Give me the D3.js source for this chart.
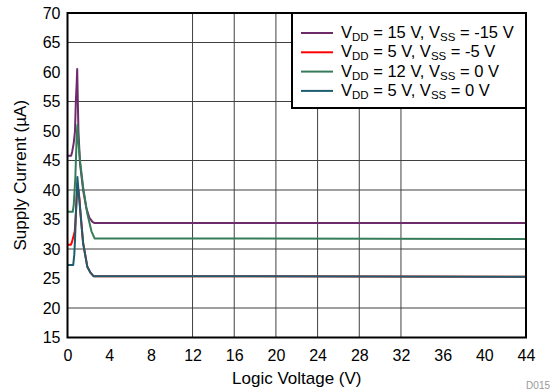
<!DOCTYPE html>
<html>
<head>
<meta charset="utf-8">
<script src="https://cdn.jsdelivr.net/npm/d3@7"></script>
<style>
  html, body { margin: 0; padding: 0; background: #fff; }
  svg { display: block; font-family: "Liberation Sans", Arial, sans-serif; }
</style>
</head>
<body>
<svg id="chart" width="555" height="392"></svg>
<script>
// Supply current vs. logic voltage, four supply configurations
const xTicks = [0, 4, 8, 12, 16, 20, 24, 28, 32, 36, 40, 44];
const yTicks = [15, 20, 25, 30, 35, 40, 45, 50, 55, 60, 65, 70];
const gridX = [12, 16, 20, 24, 28, 32];
const gridY = [20, 30, 40, 45, 55, 65];

const seriesColors = ["#6e2b69", "#ff0000", "#367c5a", "#1c5d70"];

// Logic voltage (V) and supply current (µA) per configuration
const vPurple = [0, 0.35, 0.45, 0.6, 0.72, 0.8, 0.88, 0.93, 0.98, 1.05, 1.2, 1.5, 1.8, 2.1, 2.4, 2.6, 44];
const iPurple = [45.8, 45.8, 46.5, 48, 50, 55, 58, 60.5, 56, 50, 44.5, 40, 37, 35.3, 34.6, 34.4, 34.4];

const vRed = [0, 0.3, 0.4, 0.55, 0.7, 0.8, 0.95, 1.05, 1.15, 1.25, 1.5, 1.9, 2.2, 2.5, 44];
const iRed = [30.7, 30.7, 31, 32, 33, 36, 40.5, 40, 38.5, 36, 31, 27, 26, 25.4, 25.3];

const vGreen = [0, 0.5, 0.6, 0.75, 0.88, 0.95, 1.05, 1.2, 1.5, 1.9, 2.3, 2.6, 44];
const iGreen = [36.3, 36.3, 37.5, 42, 49, 51, 48, 45, 40.5, 36, 33, 31.8, 31.7];

const vTeal = [0, 0.55, 0.65, 0.72, 0.85, 0.95, 1.05, 1.25, 1.5, 1.9, 2.2, 2.5, 44];
const iTeal = [27.3, 27.3, 29, 31.5, 38, 42.2, 40, 36, 31, 27, 26, 25.4, 25.3];

const seriesData = [
  d3.zip(vPurple, iPurple),
  d3.zip(vRed, iRed),
  d3.zip(vGreen, iGreen),
  d3.zip(vTeal, iTeal)
];

const svg = d3.select("#chart");
const L = 67.5, R = 526, T = 13, B = 337.5;

const x = d3.scaleLinear().domain([0, 44]).range([L, R]);
const y = d3.scaleLinear().domain([15, 70]).range([B, T]);

// grid
svg.append("g").selectAll("line").data(gridY).join("line")
  .attr("x1", L).attr("x2", R)
  .attr("y1", d => y(d)).attr("y2", d => y(d))
  .attr("stroke", "#404040").attr("stroke-width", 1);
svg.append("g").selectAll("line").data(gridX).join("line")
  .attr("y1", T).attr("y2", B)
  .attr("x1", d => x(d)).attr("x2", d => x(d))
  .attr("stroke", "#404040").attr("stroke-width", 1);

// axes (labels only)
const xAxis = d3.axisBottom(x).tickValues(xTicks).tickSize(0).tickPadding(12).tickFormat(d3.format("d"));
const gx = svg.append("g").attr("transform", `translate(0,${B})`).call(xAxis);
gx.select(".domain").remove();
gx.selectAll("text").attr("font-size", 16).attr("fill", "#000").attr("font-family", "Liberation Sans, Arial, sans-serif");

const yAxis = d3.axisLeft(y).tickValues(yTicks).tickSize(0).tickPadding(7).tickFormat(d3.format("d"));
const gy = svg.append("g").attr("transform", `translate(${L},0)`).call(yAxis);
gy.select(".domain").remove();
gy.selectAll("text").attr("font-size", 16).attr("fill", "#000").attr("font-family", "Liberation Sans, Arial, sans-serif");

// series
const line = d3.line().x(d => x(d[0])).y(d => y(d[1]));
svg.append("g").selectAll("path").data(seriesData).join("path")
  .attr("d", line)
  .attr("fill", "none")
  .attr("stroke", (d, i) => seriesColors[i])
  .attr("stroke-width", 2)
  .attr("stroke-linejoin", "round");

// frame
svg.append("rect").attr("x", L).attr("y", T).attr("width", R - L).attr("height", B - T)
  .attr("fill", "none").attr("stroke", "#000").attr("stroke-width", 2);

// legend
const legendLabels = [
  ["15", "-15"],
  ["5", "-5"],
  ["12", "0"],
  ["5", "0"]
];
const lg = svg.append("g");
lg.append("rect").attr("x", 292).attr("y", T).attr("width", R - 292).attr("height", 95)
  .attr("fill", "#fff").attr("stroke", "#000").attr("stroke-width", 2);
legendLabels.forEach((lab, i) => {
  const cy = 33 + i * 19.3;
  lg.append("line").attr("x1", 301).attr("x2", 333).attr("y1", cy).attr("y2", cy)
    .attr("stroke", seriesColors[i]).attr("stroke-width", 2);
  const t = lg.append("text").attr("x", 341).attr("y", cy + 5).attr("font-size", 16.5).attr("fill", "#000");
  t.append("tspan").text("V");
  t.append("tspan").attr("font-size", 11.5).attr("dy", 3).text("DD");
  t.append("tspan").attr("dy", -3).text(` = ${lab[0]} V, V`);
  t.append("tspan").attr("font-size", 11.5).attr("dy", 3).text("SS");
  t.append("tspan").attr("dy", -3).text(` = ${lab[1]} V`);
});

// titles
svg.append("text").attr("x", (L + R) / 2).attr("y", 384).attr("text-anchor", "middle")
  .attr("font-size", 17).attr("fill", "#000").text("Logic Voltage (V)");
svg.append("text").attr("transform", `translate(26,${(T + B) / 2}) rotate(-90)`)
  .attr("text-anchor", "middle").attr("font-size", 17).attr("fill", "#000").text("Supply Current (µA)");
svg.append("text").attr("x", 550).attr("y", 389).attr("text-anchor", "end")
  .attr("font-size", 10).attr("fill", "#999").text("D015");
</script>
</body>
</html>
